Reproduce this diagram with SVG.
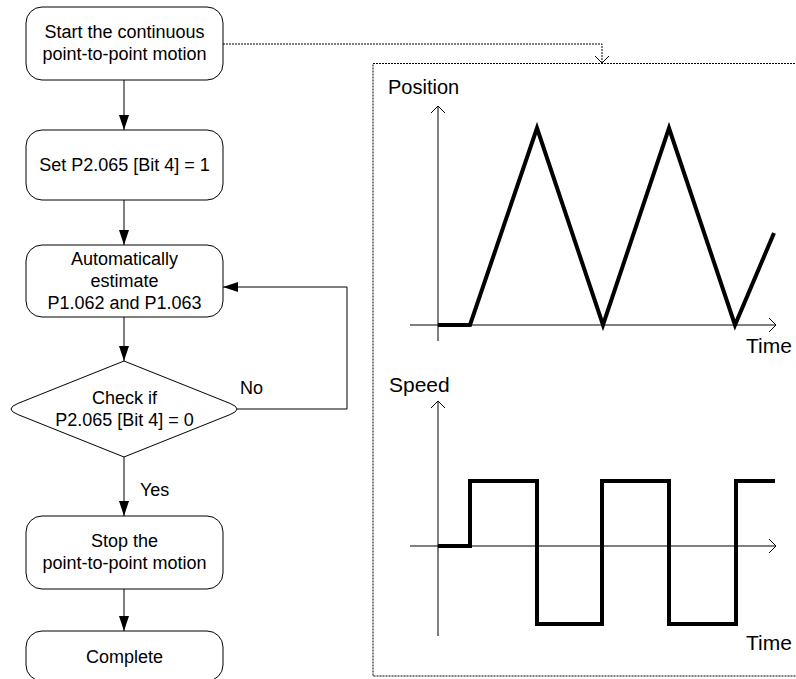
<svg xmlns="http://www.w3.org/2000/svg" width="796" height="679" viewBox="0 0 796 679">
<style>
.box{fill:#fff;stroke:#000;stroke-width:1}
.t{font-family:"Liberation Sans",Arial,sans-serif;font-size:18px;fill:#000;text-anchor:middle}
.lbl{font-family:"Liberation Sans",Arial,sans-serif;font-size:18px;fill:#000}
.gl{font-family:"Liberation Sans",Arial,sans-serif;font-size:21px;fill:#000}
.ln{fill:none;stroke:#000;stroke-width:1}
.dot{fill:none;stroke:#000;stroke-width:1;stroke-dasharray:2 1}
.ax{fill:none;stroke:#000;stroke-width:1}
.curve{fill:none;stroke:#000;stroke-width:4;stroke-linejoin:miter;stroke-linecap:butt}
</style>
<defs>
<marker id="ah" markerWidth="16" markerHeight="12" refX="15" refY="5" orient="auto" markerUnits="userSpaceOnUse">
<path d="M0,0 L15,5 L0,10 Z" fill="#000"/>
</marker>
<marker id="open" markerWidth="10" markerHeight="14" refX="7" refY="7" orient="auto" markerUnits="userSpaceOnUse">
<path d="M0,0 L7,7 L0,14" fill="none" stroke="#000" stroke-width="1"/>
</marker>
<marker id="openDot" markerWidth="14" markerHeight="16" refX="7" refY="8" orient="auto" markerUnits="userSpaceOnUse">
<path d="M0,1 L7,8 L0,15" fill="none" stroke="#000" stroke-width="1"/>
</marker>
</defs>
<rect width="796" height="679" fill="#fff"/>

<g id="connectors">
<line class="ln" x1="124" y1="80" x2="124" y2="130" marker-end="url(#ah)"/>
<line class="ln" x1="124" y1="200" x2="124" y2="245" marker-end="url(#ah)"/>
<line class="ln" x1="124" y1="317" x2="124" y2="361" marker-end="url(#ah)"/>
<polyline class="ln" points="237,409 347,409 347,287 223,287" marker-end="url(#ah)"/>
<line class="ln" x1="124" y1="457" x2="124" y2="516" marker-end="url(#ah)"/>
<line class="ln" x1="124" y1="589" x2="124" y2="631" marker-end="url(#ah)"/>
<polyline class="dot" points="223,44 602,44 602,63" marker-end="url(#openDot)"/>
<text class="lbl" x="240" y="394">No</text>
<text class="lbl" x="140" y="496">Yes</text>
</g>

<g id="start">
<rect class="box" x="26" y="7" width="197" height="73" rx="16"/>
<text class="t" x="124.5" y="38">Start the continuous</text>
<text class="t" x="124.5" y="60">point-to-point motion</text>
</g>
<g id="set">
<rect class="box" x="26" y="130" width="197" height="70" rx="16"/>
<text class="t" x="124.5" y="171">Set P2.065 [Bit 4] = 1</text>
</g>
<g id="estimate">
<rect class="box" x="26" y="245" width="197" height="72" rx="16"/>
<text class="t" x="124.5" y="265">Automatically</text>
<text class="t" x="124.5" y="287">estimate</text>
<text class="t" x="124.5" y="309">P1.062 and P1.063</text>
</g>
<g id="check">
<path class="box" d="M124,361 L230,403.4 Q244,409 230,414.6 L124,457 L18,414.6 Q4,409 18,403.4 Z"/>
<text class="t" x="124.5" y="404">Check if</text>
<text class="t" x="124.5" y="426">P2.065 [Bit 4] = 0</text>
</g>
<g id="stop">
<rect class="box" x="26" y="516" width="197" height="73" rx="16"/>
<text class="t" x="124.5" y="547">Stop the</text>
<text class="t" x="124.5" y="569">point-to-point motion</text>
</g>
<g id="complete">
<rect class="box" x="26" y="631" width="197" height="50" rx="16"/>
<text class="t" x="124.5" y="663">Complete</text>
</g>

<g id="charts">
<rect class="dot" x="373" y="63.5" width="430" height="612.5"/>
<text class="gl" x="388" y="94" style="font-size:20px">Position</text>
<line class="ax" x1="438" y1="341" x2="438" y2="106" marker-end="url(#open)"/>
<line class="ax" x1="410" y1="325" x2="776" y2="325" marker-end="url(#open)"/>
<polyline class="curve" points="438,325 470,325 537,128 603,325 669,128 735,325 774,233"/>
<text class="gl" x="746" y="353">Time</text>

<text class="gl" x="389" y="392">Speed</text>
<line class="ax" x1="438" y1="636" x2="438" y2="401" marker-end="url(#open)"/>
<line class="ax" x1="410" y1="546" x2="776" y2="546" marker-end="url(#open)"/>
<polyline class="curve" points="438,546 470,546 470,481 537,481 537,624 602,624 602,481 669,481 669,624 736,624 736,481 775,481"/>
<text class="gl" x="746" y="650">Time</text>
</g>
</svg>
